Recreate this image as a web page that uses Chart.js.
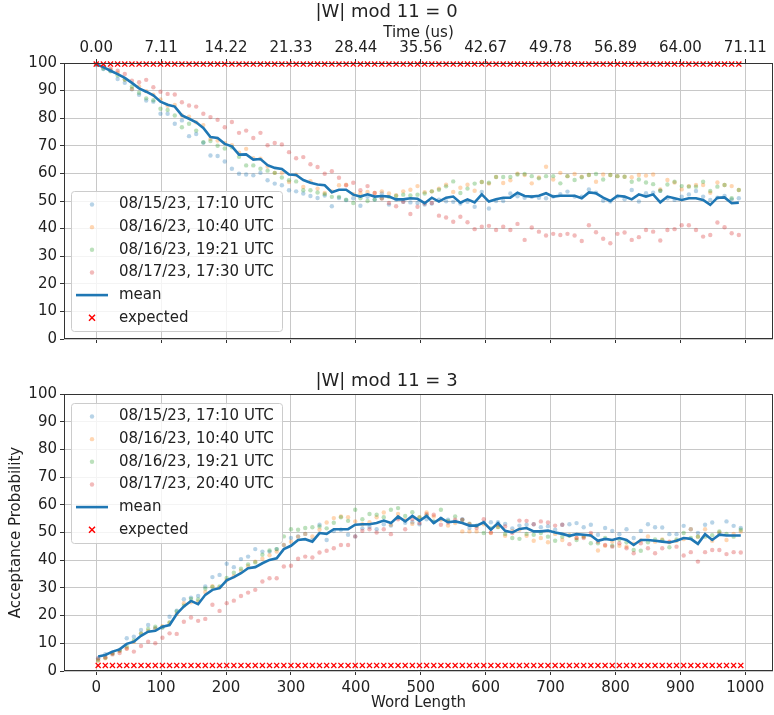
<!doctype html>
<html lang="en">
<head>
<meta charset="utf-8">
<title>Acceptance probability vs word length</title>
<script src="https://cdn.jsdelivr.net/npm/chart.js"></script>
<style>
  body { margin: 0; background: #fff; }
  #wrap { position: relative; width: 774px; height: 715px; }
  #topBox { position: absolute; left: 0; top: 0; }
  #bottomBox { position: absolute; left: 0; top: 360px; }
</style>
</head>
<body>
<div id="wrap">
  <div id="topBox"><canvas id="topChart" width="774" height="360"></canvas></div>
  <div id="bottomBox"><canvas id="bottomChart" width="774" height="355"></canvas></div>
</div>

<script>
// word lengths: |W| mod 11 = 0 and |W| mod 11 = 3
var lengthsTop = Array.from({ length: 91 }, (_, i) => 11 * i);
var lengthsBottom = Array.from({ length: 91 }, (_, i) => 11 * i + 3);

var lengthTicks = [0, 100, 200, 300, 400, 500, 600, 700, 800, 900, 1000];
var timeTicks = ['0.00', '7.11', '14.22', '21.33', '28.44', '35.56', '42.67', '49.78', '56.89', '64.00', '71.11'];
var probTicks = [0, 10, 20, 30, 40, 50, 60, 70, 80, 90, 100];

var labelsTop = ['08/15/23, 17:10 UTC', '08/16/23, 10:40 UTC', '08/16/23, 19:21 UTC', '08/17/23, 17:30 UTC'];
var labelsBottom = ['08/15/23, 17:10 UTC', '08/16/23, 10:40 UTC', '08/16/23, 19:21 UTC', '08/17/23, 20:40 UTC'];

// |W| mod 11 = 0
var run1Top = [99.3,97.8,97.2,94.2,92.8,90.5,88.5,86.4,86,81.6,
  81.6,78,79.2,73.5,74.3,71.1,66.5,66.3,64.3,61.7,
  59.9,59.6,59.3,60.2,57.5,56.3,55.7,53.9,53.5,52.7,
  51.8,51.1,52,48.1,51.1,50.3,51,48.3,51.5,50.5,
  52.7,48.7,50.5,49.7,49.5,49.3,48.7,49.1,50.5,49.9,
  49.7,49.1,49.7,47.9,53.3,47.3,50,50,52.7,51.7,
  51.2,51.5,51.2,51,51.6,52.5,53.4,51.6,51.6,54.2,
  53,50.1,49.8,51.6,50.6,54,49.8,52.8,53,53.7,
  51,50.4,51.6,52.4,53.6,51.6,50.4,51.2,51.8,50.6,
  51];
var run2Top = [100,98.6,97.5,96.5,94,90.6,91.5,89.8,88.5,86.8,
  84.5,84.8,81,80.5,78.5,77.5,72.5,71.9,71,70.2,
  67.5,68.9,65.5,65.3,62.5,60.2,60.2,56.9,59.5,55.1,
  57.2,54.5,52.9,53.5,55.7,55.9,52.5,52.8,53.3,52.9,
  53.5,52.7,52.1,53.5,54.1,55.4,53.2,53.5,54.5,55.9,
  53.3,54.8,55.9,53.7,56.9,56.3,58.7,56.5,57.5,59.9,
  59.4,56.4,58.5,62.4,57.8,60.2,59,59.8,58.8,59.4,
  57,59.6,59.4,59,58.8,58.6,59.4,59.2,59.6,54.2,
  57.6,56.7,54.2,55.4,55.8,55.8,53,56.7,55.8,55.4,
  54];
var run3Top = [99.5,98,97,95.5,94,91.5,89.2,87.2,86.5,83.4,
  83,81,76.7,78,75.5,71.3,71.7,70,69,69.5,
  66,62.9,62.9,61.7,61,60.2,58.5,57.5,57.1,53.9,
  53.9,53.1,52.5,51.5,51.5,50.5,49.3,51,50,50.5,
  51,51.5,51.8,52.3,52,52.3,52.7,53.5,54.1,55.3,
  57.1,52.9,54.5,56.3,56.9,56.6,58.7,58.7,58.7,59.6,
  59.8,59,58.2,59,59,56.4,59,57.6,58.6,59.4,
  59.8,57.8,59.4,59,58.8,57,57.8,56.7,56.1,53.7,
  56,57,55.4,55.2,55.2,57,53.6,55.2,55.8,51,
  54];
var run4Top = [100,99,98,97.2,96,93.6,93,93.9,91.2,89.6,
  88.8,88.6,85.8,84.6,84.2,81.6,80.4,79.4,76.7,78.6,
  74.7,75.5,72.8,74.7,70.2,71,70.5,67.7,65.5,65.9,
  63.3,62.3,59.9,60.8,58.4,55.7,56.6,53.9,55.4,52.9,
  50.9,49.3,48.1,49.7,45.3,47.9,49.1,49.3,44.7,44,
  42.5,44.3,42.3,39.8,40.7,41,39.5,40.7,39.5,41.7,
  35.9,40.4,38.9,37.5,38.1,37.7,38.1,37.5,35.5,41.2,
  38.7,36.3,34.7,38.1,38.6,35.9,36.9,39.5,38.9,35.7,
  39.5,39.8,41.2,41.2,39.5,37.1,37.7,42.2,40.5,38.3,
  37.7];
var meanTop = [99.5,98.5,97.2,96,94.6,92.8,90.8,89.6,88.3,86,
  84.9,84.2,81,79.8,78.5,76.5,73.2,72.8,70.7,69.8,
  66.8,66.9,65,65.2,63,62,61.6,59.6,59.4,57.6,
  56.6,56,55.7,53.2,54.1,54.1,52.3,51.6,52.4,51.6,
  51.8,51.6,50.6,50.6,51,50.8,49.2,51.2,49.8,51.2,
  51.6,49.4,50.6,49.5,52.4,49.8,50.6,51.2,51.2,53,
  51.8,51.6,51.9,52.8,51.6,51.9,51.9,51.9,51,53.1,
  52.8,51.2,50,51.9,51.6,50.6,52.4,51.6,52.4,49.5,
  51.6,51,50.4,51,51,50.4,48.6,51.2,51.3,49.2,
  49.4];
var expectedTop = 99.6;

// |W| mod 11 = 3
var run1Bottom = [4.6,6.1,6.6,7.6,11.8,12.4,14.8,16.6,15.4,15.7,
  19.6,21.8,25.9,26.5,27.1,30.5,33.9,34.7,38.7,37.5,
  40.4,41.3,44,43.1,43.1,44,45.5,48,48.6,49.5,
  47.3,52.8,47.3,50.5,51,49.2,48.6,51.5,52,51.2,
  53,52.5,55.2,53.5,53.7,53,54.8,53.8,55,54.6,
  54,54.8,51.6,52.5,53.6,53.7,53.7,53.1,51.5,52.5,
  52.8,53,51.9,52.3,51,52.8,53,53.4,51.9,52.8,
  49.2,51.6,50.6,49.4,51.2,48,50.6,53,51.9,51.8,
  49.4,49.4,52.4,51.2,49.8,52.8,53.6,49.5,54,52.4,
  51.6];
var run2Bottom = [3.6,4.6,6.5,7.2,8.2,10.5,13.5,14.5,15.4,16.2,
  17.4,20.6,24.5,24.8,25,28.5,30.6,30.2,32.8,34.2,
  36.2,37.8,39.5,40.5,41.8,43.1,45.5,46.7,48.5,49.5,
  48.6,51,53.6,55.2,55.8,55.5,54,53,53.7,55.5,
  57.2,52.8,56.7,54.5,53.1,55.5,57.2,55.8,54.6,52.5,
  53.4,50.4,50.4,50.4,53,49.8,52,48.8,50.5,51,
  48.8,47,48,46.5,49.5,47.3,49,48,48.5,49,
  43.5,45.2,46.7,45.2,44.9,46,47.1,48.6,46.7,47.5,
  46.5,47,47.6,51.2,48.5,51.2,47,50,47.3,49.5,
  50.4];
var run3Bottom = [4,4.8,6.2,7.4,8.8,11,13.5,15.2,16,15.8,
  17.5,21.5,23.6,26,25.8,29.8,30.3,30.5,33.6,35.5,
  36.9,38.5,39.2,42,43.5,44,48.6,51.2,51,51.6,
  51.9,52.2,51.5,53.5,55.5,54.2,58.2,54.8,56.7,56.4,
  55.5,58.2,58.8,56,57.3,55.4,56.2,54,58.2,54.2,
  55.8,54.5,53.2,52.4,49.8,51.5,52,49.5,48,47.7,
  49.5,49.2,49.8,48.5,47,48.5,48.8,47.3,48.5,46.1,
  46.1,48,45.2,47.5,46.5,43.7,43.4,46.5,47.5,47.2,
  44.7,47.5,49.8,48,48.5,48.5,49,50.4,49.5,48.5,
  51];
var run4Bottom = [4.5,5,6,6.5,8,7,9,10.6,10,12,
  13.6,13.4,17.8,19.3,18.1,18.8,23.9,21.7,24.5,25.4,
  27.1,28.3,29.3,32.3,33.5,33.5,37.7,38,40.5,41.3,
  41,42.8,43.4,44.3,45.5,45.5,48.6,50.6,51.2,50,
  51.2,49.4,54.8,51.2,54.8,53.4,56.6,56.4,52.8,53.6,
  54.6,54.6,53,51.6,54.8,50,52.8,52.2,49.8,54.3,
  54.2,53,54,53.6,52.5,52.8,45.8,48,48,49.8,
  46.7,45.5,44.9,46.1,44.3,42.5,46.1,44.3,42.5,44.3,
  46.7,44.9,41.7,42.9,39.5,42.9,43.7,43.7,42.2,42.9,
  42.8];
var meanBottom = [5.2,5.8,7,7.8,9.8,10.6,12.7,14.2,14.5,16,
  16.6,20.6,23.3,25.3,24.1,27.5,29.3,29.9,32.7,33.9,
  35.3,37.1,37.5,38.9,40.1,40.7,44,45.2,47.3,47.6,
  46.7,49.8,49.5,51.2,51.2,51.2,52.8,53,53,53.4,
  54.3,53.4,55.8,54,56,54.2,56,53.4,55.2,53.7,
  54,53.4,52.5,52.5,53.7,51,53.4,50.6,50,51.3,
  51.6,50.4,50.4,50.7,50,49.5,48.8,49.4,49.2,48.9,
  47,47.7,47.3,48,47.3,45.5,47.3,47.3,47,46.7,
  46.4,47,48,47.7,45.9,49.4,47.3,49.2,48.9,48.9,
  48.9];
var expectedBottom = 2.0;

var runColors = ['rgba(31,119,180,0.32)', 'rgba(255,127,14,0.32)', 'rgba(44,160,44,0.32)', 'rgba(214,39,40,0.32)'];
var meanColor = '#1f77b4';
var gridColor = '#c8c8c8';
var axisColor = '#333333';
var xMin = -49.65, xMax = 1042.65;

Chart.defaults.font.family = "'DejaVu Sans', sans-serif";
Chart.defaults.font.size = 15;
Chart.defaults.color = '#222222';

function points(xs, ys) {
  return xs.map((x, i) => ({ x: x, y: ys[i] }));
}

function buildDatasets(xs, runs, labels, mean, expected) {
  var sets = runs.map((r, k) => ({
    label: labels[k],
    kind: 'dot',
    data: points(xs, r),
    backgroundColor: runColors[k],
    borderWidth: 0,
    pointRadius: 2.2,
    showLine: false,
    order: 5 - k
  }));
  sets.push({
    label: 'mean',
    kind: 'line',
    data: points(xs, mean),
    borderColor: meanColor,
    borderWidth: 2.6,
    pointRadius: 0,
    showLine: true,
    tension: 0,
    order: 1
  });
  sets.push({
    label: 'expected',
    kind: 'cross',
    data: points(xs, xs.map(() => expected)),
    borderColor: '#ff0000',
    backgroundColor: '#ff0000',
    borderWidth: 1.3,
    pointStyle: 'crossRot',
    pointRadius: 3.6,
    showLine: false,
    clip: false,
    order: 0
  });
  return sets;
}

// frame round the plot plus a matplotlib-like legend box
var frameLegend = {
  id: 'frameLegend',
  afterDatasetsDraw(chart, args, opts) {
    var ctx = chart.ctx, a = chart.chartArea;
    ctx.save();
    ctx.strokeStyle = axisColor;
    ctx.lineWidth = 1;
    ctx.strokeRect(Math.round(a.left) + 0.5, Math.round(a.top) + 0.5,
      Math.round(a.right - a.left) - 1, Math.round(a.bottom - a.top) - 1);

    var w = 211, h = 140;
    var left = a.left + 7;
    var top = opts.corner === 'lower' ? a.bottom - 8 - h : a.top + 9;
    ctx.fillStyle = 'rgba(255,255,255,0.8)';
    ctx.strokeStyle = '#cccccc';
    ctx.beginPath();
    if (ctx.roundRect) ctx.roundRect(left + 0.5, top + 0.5, w, h, 3); else ctx.rect(left + 0.5, top + 0.5, w, h);
    ctx.fill();
    ctx.stroke();

    ctx.font = "15px 'DejaVu Sans', sans-serif";
    ctx.textBaseline = 'middle';
    ctx.textAlign = 'left';
    chart.data.datasets.forEach((ds, i) => {
      var y = top + 13.5 + i * 22.65;
      var mx = left + 21;
      if (ds.kind === 'dot') {
        ctx.fillStyle = ds.backgroundColor;
        ctx.beginPath();
        ctx.arc(mx, y, 2.2, 0, Math.PI * 2);
        ctx.fill();
      } else if (ds.kind === 'line') {
        ctx.strokeStyle = ds.borderColor;
        ctx.lineWidth = 2.6;
        ctx.beginPath();
        ctx.moveTo(left + 5, y);
        ctx.lineTo(left + 37, y);
        ctx.stroke();
      } else {
        ctx.strokeStyle = ds.borderColor;
        ctx.lineWidth = 1.5;
        ctx.beginPath();
        ctx.moveTo(mx - 3, y - 3); ctx.lineTo(mx + 3, y + 3);
        ctx.moveTo(mx + 3, y - 3); ctx.lineTo(mx - 3, y + 3);
        ctx.stroke();
      }
      ctx.fillStyle = '#222222';
      ctx.fillText(ds.label, left + 48, y);
    });
    ctx.restore();
  }
};

function setTicks(values) {
  return function (scale) {
    scale.ticks = values.map(v => ({ value: v }));
  };
}

// fixed box sizes; no extra side padding for overhanging labels
function fixHeight(h) {
  return function (s) {
    s.height = h;
    s.paddingLeft = 0;
    s.paddingRight = 0;
  };
}

var yScale = function (withTitle) {
  return {
    type: 'linear',
    min: 0,
    max: 100,
    afterBuildTicks: setTicks(probTicks),
    ticks: { padding: 3, color: '#222222', callback: v => String(v) },
    grid: { color: gridColor, tickColor: axisColor, tickLength: 4, lineWidth: 1 },
    border: { display: false },
    title: { display: withTitle, text: 'Acceptance Probability', padding: { top: 7, bottom: 0 } },
    afterFit: function (s) { s.width = 64; s.paddingTop = 0; s.paddingBottom = 0; }
  };
};

// top panel
new Chart(document.getElementById('topChart'), {
  type: 'scatter',
  data: { datasets: buildDatasets(lengthsTop, [run1Top, run2Top, run3Top, run4Top], labelsTop, meanTop, expectedTop) },
  options: {
    responsive: false,
    animation: false,
    layout: { autoPadding: false, padding: { top: 0, right: 1, bottom: 0, left: 0 } },
    scales: {
      x: {
        type: 'linear',
        position: 'bottom',
        min: xMin,
        max: xMax,
        afterBuildTicks: setTicks(lengthTicks),
        ticks: { display: false },
        grid: { color: gridColor, tickColor: axisColor, tickLength: 4, lineWidth: 1 },
        border: { display: false },
        afterFit: fixHeight(21)
      },
      x2: {
        type: 'linear',
        position: 'top',
        min: xMin,
        max: xMax,
        afterBuildTicks: setTicks(lengthTicks),
        ticks: {
          padding: 2,
          maxRotation: 0,
          autoSkip: false,
          color: '#222222',
          callback: function (v, i) { return timeTicks[i]; }
        },
        grid: { drawOnChartArea: false, tickColor: axisColor, tickLength: 4 },
        border: { display: false },
        title: { display: true, text: 'Time (us)', padding: { top: 1, bottom: 0 } },
        afterFit: fixHeight(39.4)
      },
      y: yScale(false)
    },
    plugins: {
      legend: { display: false },
      tooltip: { enabled: false },
      title: {
        display: true,
        text: '|W| mod 11 = 0',
        font: { size: 18, weight: 'normal' },
        color: '#222222',
        padding: { top: 2, bottom: 0 }
      },
      frameLegend: { corner: 'lower' }
    }
  },
  plugins: [frameLegend]
});

// bottom panel
new Chart(document.getElementById('bottomChart'), {
  type: 'scatter',
  data: { datasets: buildDatasets(lengthsBottom, [run1Bottom, run2Bottom, run3Bottom, run4Bottom], labelsBottom, meanBottom, expectedBottom) },
  options: {
    responsive: false,
    animation: false,
    layout: { autoPadding: false, padding: { top: 0, right: 1, bottom: 0, left: 0 } },
    scales: {
      x: {
        type: 'linear',
        position: 'bottom',
        min: xMin,
        max: xMax,
        afterBuildTicks: setTicks(lengthTicks),
        ticks: { padding: 4, maxRotation: 0, autoSkip: false, color: '#222222', callback: v => String(v) },
        grid: { color: gridColor, tickColor: axisColor, tickLength: 4, lineWidth: 1 },
        border: { display: false },
        title: { display: true, text: 'Word Length', padding: { top: 0, bottom: 3 } },
        afterFit: fixHeight(44)
      },
      y: yScale(true)
    },
    plugins: {
      legend: { display: false },
      tooltip: { enabled: false },
      title: {
        display: true,
        text: '|W| mod 11 = 3',
        font: { size: 18, weight: 'normal' },
        color: '#222222',
        padding: { top: 11, bottom: 1.4 }
      },
      frameLegend: { corner: 'upper' }
    }
  },
  plugins: [frameLegend]
});
</script>
</body>
</html>
